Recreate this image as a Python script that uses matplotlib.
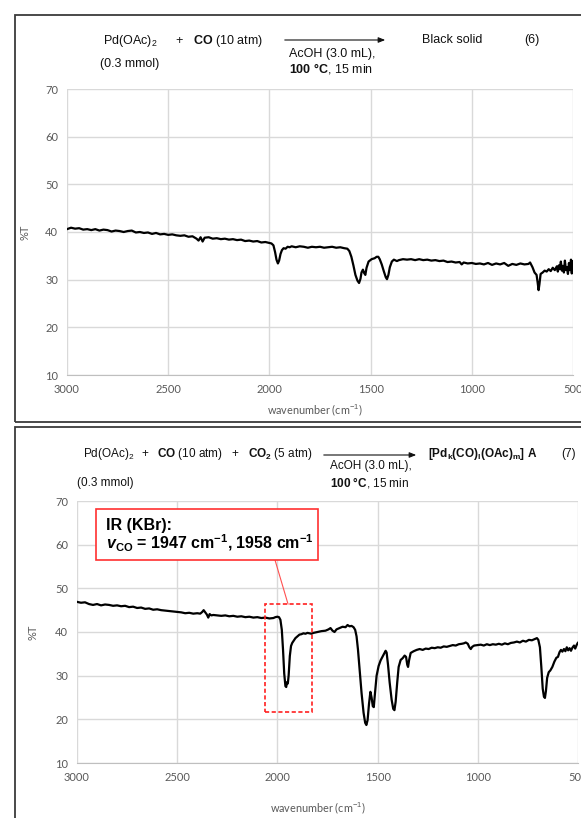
import matplotlib
matplotlib.use("Agg")
import matplotlib.pyplot as plt
from matplotlib.patches import Rectangle

plt.rcParams["font.family"] = ["Liberation Sans", "DejaVu Sans"]
plt.rcParams["mathtext.fontset"] = "custom"
plt.rcParams["mathtext.rm"] = "Liberation Sans"
plt.rcParams["mathtext.it"] = "Liberation Sans:italic"
plt.rcParams["mathtext.bf"] = "Liberation Sans:bold"
plt.rcParams["mathtext.bfit"] = "Liberation Sans:italic:bold"

# ── Spectrum 1: Pd(OAc)2 + CO -> black solid ──────────────────────────
wn_top = [3000, 2980, 2960, 2940, 2920, 2900, 2880, 2860, 2840, 2820, 2800, 2780, 2760, 2740,
          2720, 2700, 2680, 2660, 2640, 2620, 2600, 2580, 2560, 2540, 2520, 2500, 2480, 2460,
          2440, 2420, 2400, 2380, 2360, 2350, 2340, 2330, 2320, 2300, 2280, 2260, 2240, 2220,
          2200, 2180, 2160, 2140, 2120, 2100, 2080, 2060, 2040, 2020, 2000, 1990, 1980, 1972,
          1965, 1958, 1952, 1945, 1938, 1930, 1920, 1910, 1900, 1890, 1870, 1850, 1830, 1810,
          1790, 1770, 1750, 1730, 1710, 1690, 1670, 1650, 1630, 1615, 1605, 1595, 1585, 1575,
          1565, 1557, 1550, 1545, 1538, 1532, 1526, 1520, 1510, 1495, 1480, 1470, 1462, 1455,
          1445, 1435, 1425, 1419, 1412, 1405, 1395, 1385, 1370, 1360, 1340, 1320, 1300, 1280,
          1260, 1240, 1220, 1200, 1180, 1160, 1140, 1120, 1100, 1080, 1060, 1050, 1040, 1020,
          1000, 980, 960, 940, 920, 900, 880, 860, 840, 820, 800, 780, 760, 740, 720, 712,
          700, 690, 680, 675, 670, 666, 660, 650, 640, 630, 620, 610, 600, 590, 580, 575,
          570, 565, 560, 555, 550, 545, 540, 535, 530, 525, 520, 515, 510, 506, 503]
t_top = [40.6, 40.9, 40.7, 40.8, 40.5, 40.6, 40.4, 40.6, 40.3, 40.5, 40.4, 40.1, 40.3, 40.2,
         40.0, 40.2, 40.3, 39.9, 40.0, 39.8, 39.9, 39.6, 39.8, 39.5, 39.6, 39.4, 39.5, 39.3,
         39.2, 39.3, 39.0, 39.1, 38.6, 38.2, 38.9, 38.0, 38.8, 38.9, 38.6, 38.7, 38.5, 38.6,
         38.4, 38.5, 38.3, 38.4, 38.1, 38.2, 38.0, 38.1, 37.8, 37.9, 37.7, 37.6, 37.2, 35.8,
         34.2, 33.4, 34.0, 35.4, 36.2, 36.6, 36.5, 36.9, 36.8, 37.0, 36.8, 37.0, 36.9, 36.7,
         36.9, 36.8, 36.9, 36.7, 36.8, 36.9, 36.7, 36.8, 36.6, 36.5, 36.0, 34.8, 33.0, 31.0,
         29.8, 29.3, 30.2, 31.5, 32.1, 31.4, 31.0, 32.5, 33.8, 34.3, 34.5, 34.8, 34.8, 34.3,
         33.2, 31.8, 30.5, 30.1, 31.0, 32.6, 33.8, 34.2, 33.9, 34.1, 34.3, 34.2, 34.3, 34.1,
         34.3, 34.1, 34.2, 34.0, 34.1, 33.9, 34.0, 33.7, 33.8, 33.6, 33.7, 33.2, 33.6, 33.4,
         33.5, 33.3, 33.4, 33.2, 33.5, 33.1, 33.4, 33.2, 33.5, 32.9, 33.3, 33.1, 33.4, 33.2,
         33.3, 33.6, 32.6, 31.5, 31.0, 29.5, 27.8, 29.0, 31.2, 31.5, 31.9, 31.7, 32.2, 31.8,
         32.5, 32.0, 32.8, 31.7, 33.0, 32.2, 33.8, 31.9, 32.9, 31.5, 34.0, 32.0, 32.6, 31.2,
         33.5, 32.0, 34.2, 31.3, 33.9]

# ── Spectrum 2: Pd(OAc)2 + CO + CO2 -> complex A ──────────────────────
wn_bot = [3000, 2980, 2960, 2940, 2920, 2900, 2880, 2860, 2840, 2820, 2800, 2780, 2760, 2740,
          2720, 2700, 2680, 2660, 2640, 2620, 2600, 2580, 2560, 2540, 2520, 2500, 2480, 2460,
          2440, 2420, 2400, 2385, 2375, 2368, 2360, 2352, 2345, 2338, 2330, 2320, 2300, 2280,
          2260, 2240, 2220, 2200, 2180, 2160, 2140, 2120, 2100, 2080, 2060, 2040, 2020, 2010,
          2000, 1992, 1985, 1978, 1972, 1966, 1960, 1956, 1952, 1948, 1944, 1938, 1932, 1926,
          1920, 1910, 1900, 1890, 1880, 1870, 1860, 1850, 1840, 1830, 1820, 1800, 1780, 1760,
          1745, 1735, 1725, 1715, 1705, 1690, 1675, 1660, 1650, 1640, 1630, 1620, 1612, 1605,
          1598, 1590, 1580, 1570, 1562, 1556, 1550, 1543, 1536, 1530, 1524, 1519, 1514, 1505,
          1495, 1485, 1470, 1460, 1455, 1448, 1440, 1430, 1422, 1416, 1410, 1402, 1395, 1385,
          1375, 1365, 1358, 1352, 1348, 1343, 1335, 1320, 1305, 1290, 1275, 1260, 1245, 1230,
          1215, 1200, 1185, 1170, 1155, 1140, 1125, 1110, 1095, 1080, 1070, 1060, 1050, 1042,
          1035, 1028, 1018, 1000, 985, 970, 955, 940, 925, 910, 895, 880, 865, 850,
          835, 820, 805, 790, 775, 760, 745, 730, 715, 705, 698, 690, 683, 676,
          670, 665, 660, 654, 646, 638, 628, 618, 608, 600, 592, 585, 578, 570,
          563, 556, 549, 542, 535, 528, 520, 514, 507, 501]
t_bot = [46.9, 46.7, 46.8, 46.4, 46.2, 46.4, 46.1, 46.3, 46.2, 46.0, 46.1, 45.9, 46.0, 45.7,
         45.8, 45.5, 45.6, 45.3, 45.4, 45.1, 45.2, 45.0, 44.9, 44.8, 44.7, 44.6, 44.5, 44.3,
         44.4, 44.2, 44.3, 44.2, 44.6, 45.0, 44.5, 44.0, 43.3, 44.1, 43.8, 43.9, 43.8, 43.7,
         43.8, 43.6, 43.7, 43.5, 43.6, 43.4, 43.5, 43.3, 43.4, 43.2, 43.3, 43.1, 43.2, 43.4,
         43.5, 43.4, 42.8, 40.5, 36.0, 30.5, 27.6, 27.4, 28.5, 28.2, 30.0, 34.5, 36.8, 37.5,
         37.9, 38.6, 39.0, 39.4, 39.5, 39.7, 39.6, 39.8, 39.7, 39.6, 39.8, 40.0, 40.2, 40.3,
         40.6, 40.9, 40.3, 40.0, 40.6, 40.9, 41.2, 41.1, 41.6, 41.3, 41.4, 41.1, 40.5, 39.0,
         36.0, 31.5, 26.0, 21.5, 19.2, 18.7, 19.8, 23.5, 26.3, 25.0, 23.0, 22.8, 25.5, 30.0,
         32.2, 33.5, 34.8, 35.7, 35.3, 32.5, 28.5, 24.5, 22.4, 22.1, 24.0, 28.5, 32.0, 33.6,
         34.0, 34.6, 34.3, 32.5, 32.0, 33.5, 35.2, 35.6, 35.9, 36.1, 35.9, 36.2, 36.1, 36.4,
         36.3, 36.5, 36.4, 36.7, 36.6, 36.8, 37.0, 36.9, 37.2, 37.3, 37.4, 37.6, 37.3, 36.5,
         36.1, 36.6, 36.9, 37.0, 37.1, 36.9, 37.2, 37.0, 37.2, 37.1, 37.3, 37.1, 37.4, 37.2,
         37.5, 37.6, 37.8, 37.6, 38.0, 37.8, 38.2, 38.1, 38.4, 38.6, 38.2, 36.5, 32.0, 27.0,
         25.2, 24.9, 26.5, 29.5, 30.8, 31.2, 32.0, 33.2, 34.1, 34.3, 35.4, 35.9, 35.5, 36.1,
         35.6, 36.5, 35.8, 36.3, 35.7, 36.4, 36.9, 36.2, 37.0, 37.5]

x_ticks = [3000, 2500, 2000, 1500, 1000, 500]
y_ticks = [10, 20, 30, 40, 50, 60, 70]

W, H = 581, 818
fig = plt.figure(figsize=(W / 100, H / 100), dpi=100)


def px(x, y):
    # pixel position (from top-left) -> figure fraction
    return x / W, 1 - y / H


def make_axes(rect, wn, t):
    ax = fig.add_axes(rect)
    ax.plot(wn, t, color="black", linewidth=1.6)
    ax.set_xlim(3000, 500)
    ax.set_ylim(10, 70)
    ax.set_xticks(x_ticks)
    ax.set_yticks(y_ticks)
    ax.grid(True, color="#d9d9d9", linewidth=1.0)
    ax.set_axisbelow(True)
    for s in ["top", "right", "left"]:
        ax.spines[s].set_visible(False)
    ax.spines["bottom"].set_color("#bfbfbf")
    ax.tick_params(length=0, labelsize=8, labelcolor="#595959", pad=6.5)
    for lab in ax.get_xticklabels() + ax.get_yticklabels():
        lab.set_family("Lato")
    ax.set_xlabel("wavenumber (cm$^{-1}$)", fontsize=7.8, color="#595959", family="Lato")
    ax.set_ylabel("%T", fontsize=8, color="#595959", family="Lato")
    return ax


ax1 = make_axes([67 / W, 1 - 375 / H, 506 / W, 286 / H], wn_top, t_top)
ax1.xaxis.set_label_coords(0.49, -0.095)
ax1.yaxis.set_label_coords(-0.072, 0.5)

ax2 = make_axes([77 / W, 1 - 763 / H, 501 / W, 262 / H], wn_bot, t_bot)
ax2.xaxis.set_label_coords(0.48, -0.145)
ax2.yaxis.set_label_coords(-0.076, 0.5)

# ── panel borders ──────────────────────────────────────────────────────
for (x0, y0, y1) in [(15, 15, 422), (15, 427, 840)]:
    fx, fy = px(x0, y1)
    fig.patches.append(Rectangle((fx, fy), (600 - x0) / W, (y1 - y0) / H,
                                 transform=fig.transFigure, fill=False,
                                 edgecolor="#3a3a3a", linewidth=1.3, clip_on=False))


# ── reaction schemes ───────────────────────────────────────────────────
def rtext(x, y, s, size):
    fx, fy = px(x, y + 4)
    fig.text(fx, fy, s, fontsize=size, va="baseline", ha="left", color="#111111")


def rarrow(x0, x1, y):
    fig.add_artist(matplotlib.patches.FancyArrowPatch(
        px(x0, y), px(x1, y), transform=fig.transFigure,
        arrowstyle="-|>,head_length=4,head_width=1.6", mutation_scale=1,
        color="#111111", linewidth=0.8))


s1 = 9
rtext(103, 40, "Pd(OAc)$_2$", s1)
rtext(175, 40, "+", s1)
rtext(193, 40, r"$\mathbf{CO}$ (10 atm)", s1)
rarrow(282, 388, 40)
rtext(289, 53, "AcOH (3.0 mL),", s1)
rtext(289, 69, r"$\mathbf{100\ °C}$, 15 min", s1)
rtext(422, 39, "Black solid", s1)
rtext(524, 39, "(6)", s1)
rtext(100, 63, "(0.3 mmol)", s1)

s2 = 8.5
rtext(83, 453, "Pd(OAc)$_2$", s2)
rtext(141, 453, "+", s2)
rtext(157, 453, r"$\mathbf{CO}$ (10 atm)", s2)
rtext(231, 453, "+", s2)
rtext(248, 453, r"$\mathbf{CO_2}$ (5 atm)", s2)
rarrow(321, 419, 455)
rtext(330, 465, "AcOH (3.0 mL),", s2)
rtext(330, 482, r"$\mathbf{100\ °C}$, 15 min", s2)
rtext(428, 453, r"$\mathbf{[Pd_k(CO)_l(OAc)_m]\ A}$", s2)
rtext(561, 453, "(7)", s2)
rtext(77, 482, "(0.3 mmol)", s2)

# ── IR annotation on the second spectrum ──────────────────────────────
ax2.add_patch(Rectangle((2062, 21.7), 1827 - 2062, 46.4 - 21.7, fill=False,
                        edgecolor="#ff2020", linestyle=(0, (2.5, 1.5)), linewidth=1.2,
                        zorder=5))
ax2.add_patch(Rectangle((2905, 56.5), 1797 - 2905, 68.2 - 56.5, facecolor="white",
                        edgecolor="#ff3030", linewidth=1.2, zorder=6))
ax2.plot([2012, 1947], [56.5, 46.4], color="#ff5050", linewidth=0.8, zorder=5)
ax2.text(2855, 64.5, "IR (KBr):", fontsize=11.5, fontweight="bold", va="center",
         ha="left", zorder=7)
ax2.text(2855, 60.2, r"$\mathbfit{v}_{\mathbf{CO}}$ = 1947 cm$^{\mathbf{-1}}$, 1958 cm$^{\mathbf{-1}}$",
         fontsize=11.5, fontweight="bold", va="center", ha="left", zorder=7)

fig.savefig("out.png", dpi=100)
